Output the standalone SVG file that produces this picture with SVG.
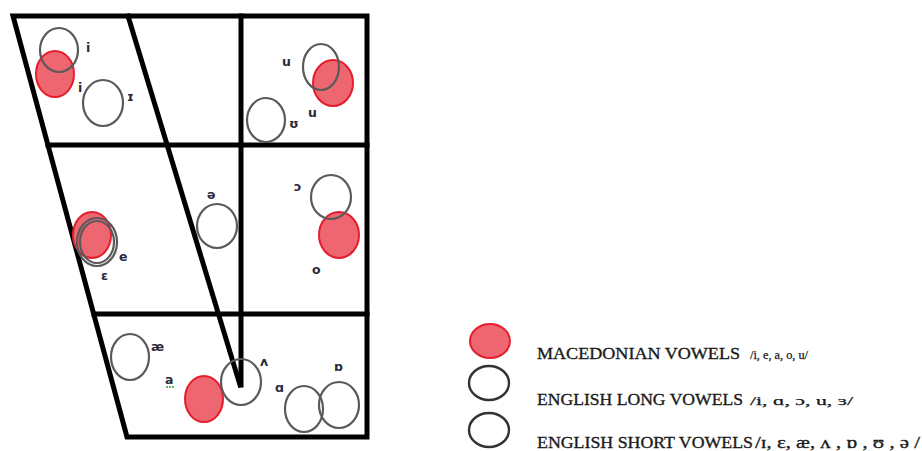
<svg xmlns="http://www.w3.org/2000/svg" width="922" height="451" viewBox="0 0 922 451">
<style>
.grid{fill:none;stroke:#000;stroke-width:5;stroke-linejoin:miter;stroke-linecap:square}
.mk{fill:#ee6670;stroke:#e41e2c;stroke-width:2}
.en{fill:none;stroke:#5a5a5a;stroke-width:2.2}
.lg{fill:none;stroke:#333;stroke-width:2.4}
.ipa{font-family:"DejaVu Sans","Liberation Sans",sans-serif;font-size:12.5px;font-weight:bold;fill:#2a2a3a}
.leg{font-family:"Liberation Serif","Times New Roman",serif;font-size:17px;fill:#1a1a1a;stroke:#1a1a1a;stroke-width:0.35}
.legs{font-family:"Liberation Serif","DejaVu Serif",serif;font-size:12px;fill:#1a1a1a;stroke:#1a1a1a;stroke-width:0.25}
</style>
<rect width="922" height="451" fill="#fff"/>
<g id="connectors">
<g id="chart-grid">
<polygon class="grid" points="13,16 367,16 367,437 127,437"/>
<line class="grid" x1="48" y1="145" x2="367" y2="145"/>
<line class="grid" x1="94" y1="314" x2="367" y2="314"/>
<line class="grid" x1="241" y1="16" x2="241" y2="385"/>
<line class="grid" x1="128" y1="16" x2="240" y2="385"/>
</g>
</g>
<g id="vowel-i">
<ellipse class="mk" cx="55" cy="74" rx="19" ry="23"/>
<ellipse class="en" cx="59" cy="50" rx="19" ry="22"/>
<text class="ipa" x="86" y="52">i</text>
<text class="ipa" x="78" y="92">i</text>
</g>
<g id="vowel-short-i">
<ellipse class="en" cx="103" cy="103" rx="20" ry="23"/>
<text class="ipa" x="127" y="101">ɪ</text>
</g>
<g id="vowel-u">
<ellipse class="mk" cx="333" cy="83" rx="20" ry="23"/>
<ellipse class="en" cx="321" cy="67" rx="18" ry="23"/>
<text class="ipa" x="282" y="66">u</text>
<text class="ipa" x="308" y="117">u</text>
</g>
<g id="vowel-short-u">
<ellipse class="en" cx="266" cy="120" rx="19" ry="22"/>
<text class="ipa" x="289" y="128">ʊ</text>
</g>
<g id="vowel-e">
<ellipse class="mk" cx="92" cy="235" rx="19" ry="23"/>
<ellipse class="en" cx="97" cy="242" rx="20" ry="24"/>
<ellipse class="en" cx="97" cy="242" rx="17" ry="21"/>
<text class="ipa" x="119" y="261">e</text>
</g>
<g id="vowel-epsilon">
<text class="ipa" x="101" y="280">ɛ</text>
</g>
<g id="vowel-schwa">
<ellipse class="en" cx="217" cy="226" rx="20" ry="22"/>
<text class="ipa" x="207" y="199">ə</text>
</g>
<g id="vowel-open-o">
<ellipse class="mk" cx="339" cy="235" rx="20" ry="23"/>
<ellipse class="en" cx="331" cy="197" rx="20" ry="22"/>
<text class="ipa" x="294" y="191">ɔ</text>
</g>
<g id="vowel-o">
<text class="ipa" x="312" y="274">o</text>
</g>
<g id="vowel-ae">
<ellipse class="en" cx="130" cy="357" rx="19" ry="23"/>
<text class="ipa" x="151" y="351">æ</text>
</g>
<g id="vowel-a">
<ellipse class="mk" cx="204" cy="399" rx="19" ry="23"/>
<text class="ipa" x="165" y="384">a</text>
<line x1="166" y1="387" x2="174" y2="387" stroke="#3a9a3a" stroke-width="1.5" stroke-dasharray="2 1"/>
</g>
<g id="vowel-wedge">
<ellipse class="en" cx="241" cy="382" rx="20" ry="23"/>
<text class="ipa" x="260" y="366">ʌ</text>
</g>
<g id="vowel-script-a">
<ellipse class="en" cx="304" cy="409" rx="19" ry="23"/>
<text class="ipa" x="275" y="392">ɑ</text>
</g>
<g id="vowel-turned-script-a">
<ellipse class="en" cx="339" cy="405" rx="20" ry="23"/>
<text class="ipa" x="334" y="371">ɒ</text>
</g>
<g id="legend-macedonian">
<ellipse class="mk" cx="490" cy="341" rx="20" ry="17"/>
<text class="leg" x="537" y="359" textLength="203" lengthAdjust="spacingAndGlyphs">MACEDONIAN VOWELS</text>
<text class="legs" x="750" y="359" textLength="58" lengthAdjust="spacingAndGlyphs">/i, e, a, o, u/</text>
</g>
<g id="legend-english-long">
<ellipse class="lg" cx="489" cy="383" rx="20" ry="17"/>
<text class="leg" x="537" y="405" textLength="206" lengthAdjust="spacingAndGlyphs">ENGLISH LONG VOWELS</text>
<text class="legs" x="750" y="405" textLength="103" lengthAdjust="spacingAndGlyphs">/i, ɑ, ɔ, u, ɜ/</text>
</g>
<g id="legend-english-short">
<ellipse class="lg" cx="489" cy="430" rx="20" ry="17"/>
<text class="leg" x="537" y="448" textLength="216" lengthAdjust="spacingAndGlyphs">ENGLISH SHORT VOWELS</text>
<text class="leg" x="755" y="448" textLength="165" lengthAdjust="spacingAndGlyphs">/ɪ, ɛ, æ, ʌ , ɒ , ʊ , ə /</text>
</g>
</svg>
